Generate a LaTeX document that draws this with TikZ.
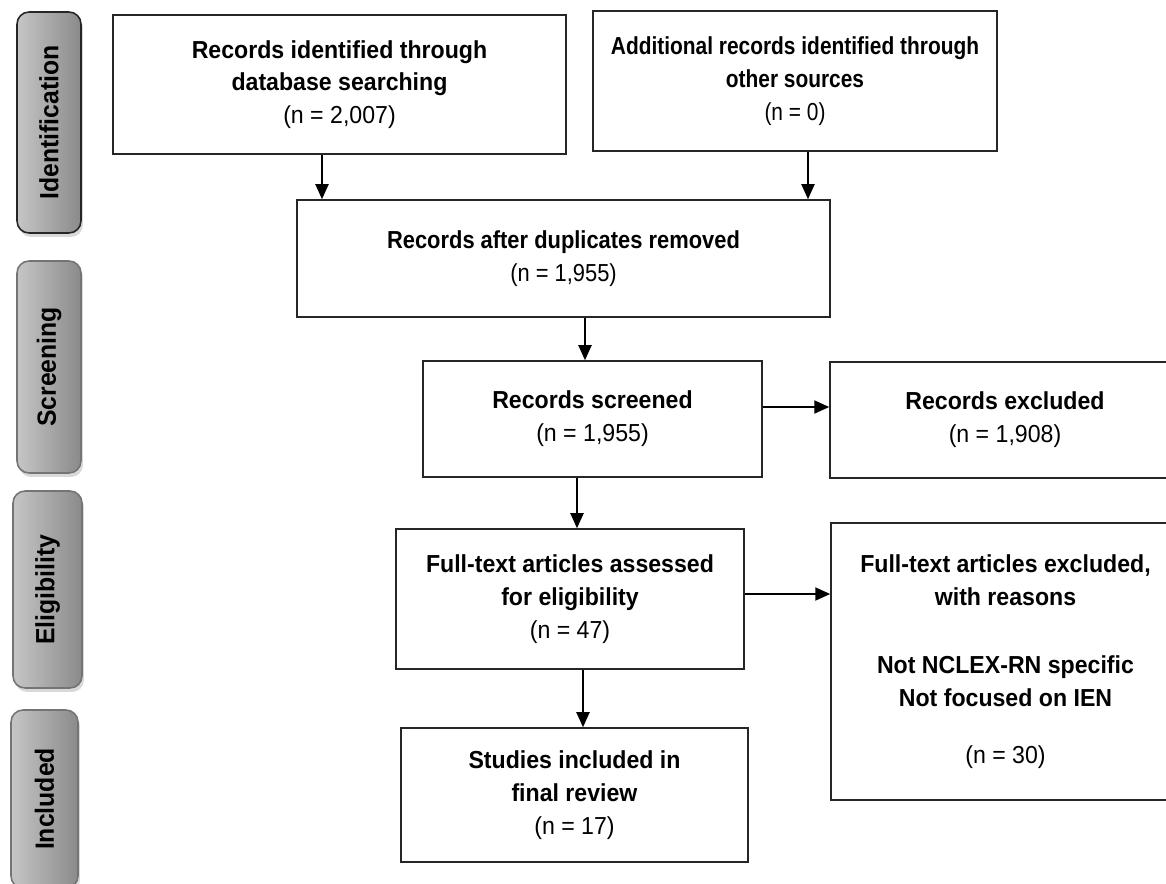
\documentclass[tikz,border=0pt]{standalone}
\usepackage{fontspec}
\usepackage{graphicx}
\setmainfont{Liberation Sans}[FakeStretch=0.94]
\newfontfamily\slimfont{Liberation Sans}[FakeStretch=0.85]
\newfontfamily\midfont{Liberation Sans}[FakeStretch=0.89]
\usetikzlibrary{arrows.meta,positioning,calc,shadows}
\definecolor{tabdark}{HTML}{8A8A8A}
\definecolor{tablight}{HTML}{C6C6C6}
\definecolor{tabedge}{HTML}{747474}

\begin{document}
\begin{tikzpicture}[x=0.02cm,y=-0.02cm,
  stage/.style={draw=black!85,line width=0.9pt,fill=white,align=center,inner sep=2pt,font=\fontsize{14}{18.7}\selectfont},
  phase/.style={draw=tabedge,line width=0.9pt,rounded corners=0.24cm,left color=tablight,right color=tabdark,minimum width=1.28cm,inner sep=0pt,font=\fontsize{15}{17}\selectfont\bfseries,drop shadow={opacity=0.3,shadow xshift=0.04cm,shadow yshift=-0.08cm}},
  arrow/.style={-{Triangle[length=0.3cm,width=0.26cm]},line width=1.1pt}
]
\clip (0,0) rectangle (1166,883);

% phases on the left
\node[phase,draw=black!85,minimum height=4.42cm] (tabid) at (49,122.5) {\rotatebox{90}{Identification}};
\node[phase,minimum height=4.24cm] (tabscr) at (49,367) {\rotatebox{90}{Screening}};
\node[phase,minimum height=3.94cm,minimum width=1.38cm] (tabelig) at (47.5,589.5) {\rotatebox{90}{Eligibility}};
\node[phase,minimum height=3.56cm,minimum width=1.34cm] (tabinc) at (44.5,799) {\rotatebox{90}{Included}};

% boxes
\node[stage,minimum width=9.06cm,minimum height=2.78cm] (ident) at (339.5,84.5)
  {\textbf{Records identified through}\\\textbf{database searching}\\(n = 2,007)};
\node[stage,minimum width=8.08cm,minimum height=2.8cm,font=\fontsize{14}{18.7}\selectfont\slimfont] (other) at (795,81)
  {\textbf{Additional records identified through}\\\textbf{other sources}\\(n = 0)};
\node[stage,minimum width=10.66cm,minimum height=2.34cm,font=\fontsize{14}{18.7}\selectfont\midfont] (dedup) at (563.5,258.5)
  {\textbf{Records after duplicates removed}\\(n = 1,955)};
\node[stage,minimum width=6.78cm,minimum height=2.32cm] (screen) at (592.5,419)
  {\textbf{Records screened}\\(n = 1,955)};
\node[stage,minimum width=7cm,minimum height=2.32cm] (excl) at (1005,420)
  {\textbf{Records excluded}\\(n = 1,908)};
\node[stage,minimum width=6.96cm,minimum height=2.8cm] (full) at (570,599)
  {\textbf{Full-text articles assessed}\\\textbf{for eligibility}\\(n = 47)};
\node[stage,minimum width=6.98cm,minimum height=5.54cm] (fullex) at (1005.5,661.5)
  {\textbf{Full-text articles excluded,}\\\textbf{with reasons}\\[0.7cm]\textbf{Not NCLEX-RN specific}\\\textbf{Not focused on IEN}\\[0.48cm](n = 30)};
\node[stage,minimum width=6.94cm,minimum height=2.68cm] (incl) at (574.5,795)
  {\textbf{Studies included in}\\\textbf{final review}\\(n = 17)};

% arrows
\draw[arrow] ([xshift=-0.35cm]ident.south) -- ([xshift=-0.35cm]ident.south |- dedup.north);
\draw[arrow] ([xshift=0.26cm]other.south) -- ([xshift=0.26cm]other.south |- dedup.north);
\draw[arrow] ([xshift=0.43cm]dedup.south) -- ([xshift=0.43cm]dedup.south |- screen.north);
\draw[arrow] ([yshift=0.24cm]screen.east) -- ([yshift=0.24cm]screen.east -| excl.west);
\draw[arrow] ([xshift=-0.31cm]screen.south) -- ([xshift=-0.31cm]screen.south |- full.north);
\draw[arrow] ([yshift=0.1cm]full.east) -- ([yshift=0.1cm]full.east -| fullex.west);
\draw[arrow] ([xshift=0.26cm]full.south) -- ([xshift=0.26cm]full.south |- incl.north);
\end{tikzpicture}
\end{document}
